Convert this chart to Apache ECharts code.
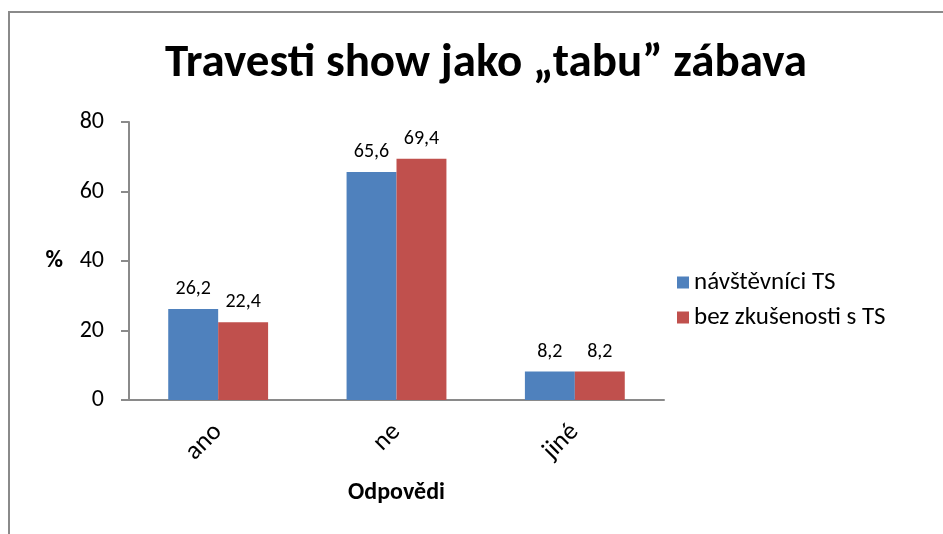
<!DOCTYPE html>
<html>
<head>
<meta charset="utf-8">
<script src="https://cdn.jsdelivr.net/npm/echarts@6/dist/echarts.min.js"></script>
<style>
html,body{margin:0;padding:0;background:#fff;}
#c{width:943px;height:534px;}
</style>
</head>
<body>
<div id="c"></div>
<script>
var categories = ['ano', 'ne', 'jiné'];
var seriesNames = ['návštěvníci TS', 'bez zkušenosti s TS'];
var visitors = [26.2, 65.6, 8.2];
var noExperience = [22.4, 69.4, 8.2];
var yTicks = [0, 20, 40, 60, 80];

var FONT = 'Carlito, "Open Sans", sans-serif';
var chart = echarts.init(document.getElementById('c'));
function lbl(p){ return String(p.value).replace('.', ','); }
chart.setOption({
  animation: false,
  backgroundColor: '#fff',
  textStyle: {fontFamily: FONT},
  graphic: [{
    type: 'polyline',
    shape: {points: [[9, 540], [9, 12], [950, 12]]},
    style: {stroke: '#8a8a8a', lineWidth: 2, fill: null}
  }],
  title: {
    text: 'Travesti show jako „tabu” zábava',
    left: 160,
    top: 36,
    textStyle: {fontFamily: FONT, fontWeight: 'bold', fontSize: 47, color: '#000'}
  },
  legend: {
    orient: 'vertical',
    left: 672,
    top: 265,
    itemWidth: 12,
    itemHeight: 12,
    itemGap: 10,
    icon: 'rect',
    textStyle: {fontFamily: FONT, fontSize: 25, color: '#000'},
    data: seriesNames
  },
  grid: {left: 129, right: 279, top: 122, bottom: 134},
  xAxis: {
    type: 'category',
    data: categories,
    name: 'Odpovědi',
    nameLocation: 'middle',
    nameGap: 81,
    nameTextStyle: {fontFamily: FONT, fontWeight: 'bold', fontSize: 24, color: '#000'},
    axisLine: {lineStyle: {color: '#8a8a8a', width: 2}},
    axisTick: {length: 7, lineStyle: {color: '#8a8a8a', width: 2}},
    axisLabel: {rotate: 45, fontSize: 26, color: '#000', margin: 28, fontFamily: FONT}
  },
  yAxis: {
    type: 'value',
    min: 0,
    max: 80,
    interval: 20,
    name: '%',
    nameLocation: 'middle',
    nameRotate: 0,
    nameGap: 66,
    nameTextStyle: {fontFamily: FONT, fontWeight: 'bold', fontSize: 24, color: '#000'},
    splitLine: {show: false},
    axisLine: {show: true, lineStyle: {color: '#8a8a8a', width: 2}},
    axisTick: {show: true, length: 8, lineStyle: {color: '#8a8a8a', width: 2}},
    axisLabel: {fontSize: 24, color: '#000', margin: 25, fontFamily: FONT,
      formatter: function(v){ return yTicks.indexOf(v) >= 0 ? String(v) : ''; }}
  },
  series: [{
    name: seriesNames[0],
    type: 'bar',
    data: visitors,
    barGap: '0%',
    barCategoryGap: '44%',
    itemStyle: {color: '#4F81BD'},
    label: {show: true, position: 'top', distance: 10, fontSize: 20, color: '#000', fontFamily: FONT, formatter: lbl}
  }, {
    name: seriesNames[1],
    type: 'bar',
    data: noExperience,
    barGap: '0%',
    barCategoryGap: '44%',
    itemStyle: {color: '#C0504D'},
    label: {show: true, position: 'top', distance: 10, fontSize: 20, color: '#000', fontFamily: FONT, formatter: lbl}
  }]
});
</script>
</body>
</html>
